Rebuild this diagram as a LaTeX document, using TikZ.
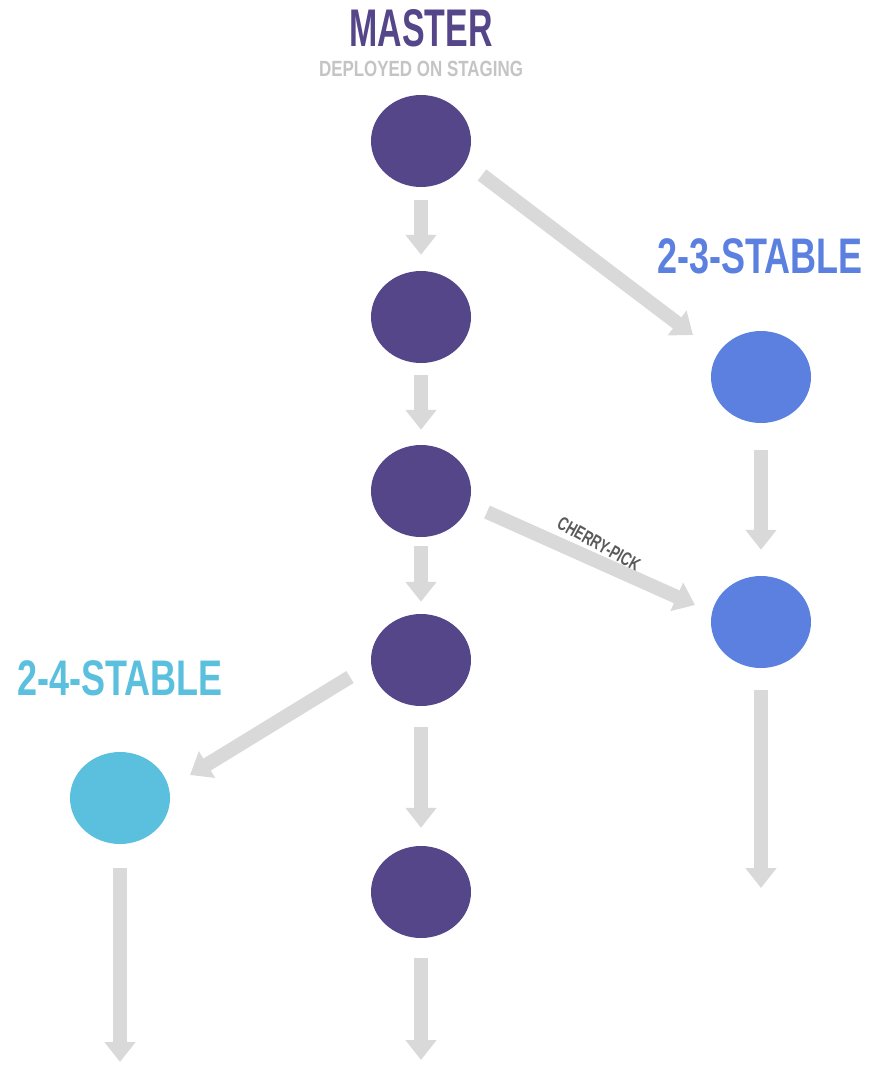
\documentclass[tikz,border=0pt]{standalone}
\usepackage{fontspec}
\usetikzlibrary{arrows.meta,shapes.geometric}
\newfontfamily\condA[FakeStretch=0.64]{Liberation Sans}
\newfontfamily\condB[FakeStretch=0.72]{Liberation Sans}
\newfontfamily\condC[FakeStretch=0.77]{Liberation Sans}
\newfontfamily\condD[FakeStretch=0.70]{Liberation Sans}
\definecolor{master}{HTML}{55468A}
\definecolor{stableA}{HTML}{5B80DF}
\definecolor{stableB}{HTML}{5BC0DE}
\definecolor{arrgray}{HTML}{D9D9D9}
\definecolor{subgray}{HTML}{C4C4C4}
\definecolor{pickgray}{HTML}{5A5A5A}
\tikzset{
  commit/.style={ellipse,minimum width=100pt,minimum height=92pt,inner sep=0pt,draw=none},
  arr/.style={draw=arrgray,line width=14pt,-{Triangle[width=30pt,length=20pt]}},
  lbl/.style={anchor=base,inner sep=0pt}
}
\begin{document}
\begin{tikzpicture}[x=1pt,y=-1pt]
\useasboundingbox (0,0) rectangle (869,1066);
% commits
\node[commit,fill=master] (m1) at (421,141) {};
\node[commit,fill=master] (m2) at (421,317) {};
\node[commit,fill=master] (m3) at (421,491) {};
\node[commit,fill=master] (m4) at (421,660) {};
\node[commit,fill=master] (m5) at (421,892) {};
\node[commit,fill=stableA] (s1) at (761,377) {};
\node[commit,fill=stableA] (s2) at (761,622) {};
\node[commit,fill=stableB] (t1) at (120,798) {};
% labels
\node[lbl,text=master] (lm) at (421,46) {\condA\bfseries\fontsize{53}{53}\selectfont MASTER};
\node[lbl,text=subgray] (ld) at (421,76) {\condC\bfseries\fontsize{22}{22}\selectfont DEPLOYED ON STAGING};
\node[lbl,text=stableA] (la) at (760,273) {\condB\bfseries\fontsize{50}{50}\selectfont 2-3-STABLE};
\node[lbl,text=stableB] (lb) at (120,695) {\condB\bfseries\fontsize{50}{50}\selectfont 2-4-STABLE};
\node[text=pickgray,inner sep=0pt,rotate=-29] (lc) at (599,544) {\condD\bfseries\fontsize{19}{19}\selectfont CHERRY-PICK};
% free ends
\coordinate (e5) at (421,1060);
\coordinate (es) at (761,888);
\coordinate (et) at (120,1062);
% connectors
\draw[arr,shorten <=13pt,shorten >=16pt] (m1) -- (m2);
\draw[arr,shorten <=12pt,shorten >=15pt] (m2) -- (m3);
\draw[arr,shorten <=9pt,shorten >=12pt] (m3) -- (m4);
\draw[arr,shorten <=21pt,shorten >=18pt] (m4) -- (m5);
\draw[arr,shorten <=20pt] (m5) -- (e5);
\draw[arr,shorten <=27pt,shorten >=26pt] (s1) -- (s2);
\draw[arr,shorten <=22pt] (s2) -- (es);
\draw[arr,shorten <=24pt] (t1) -- (et);
\draw[arr] ([shift={(61,34)}]m1.center) -- ([shift={(-68,-42)}]s1.center);
\draw[arr] ([shift={(66,21)}]m3.center) -- ([shift={(-66,-17)}]s2.center);
\draw[arr] ([shift={(-71,17)}]m4.center) -- ([shift={(70,-23)}]t1.center);
\end{tikzpicture}
\end{document}
